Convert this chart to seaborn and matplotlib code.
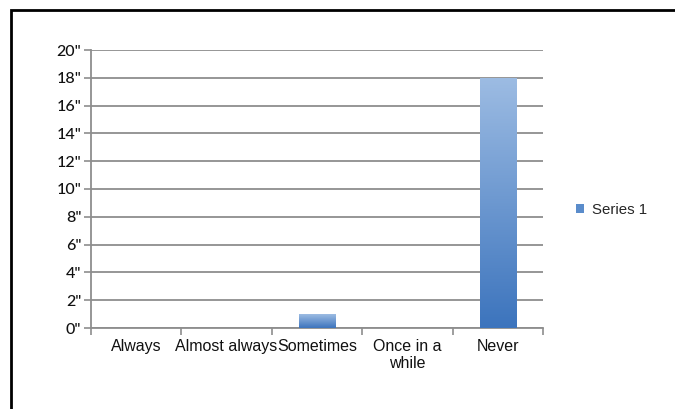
import numpy as np
import pandas as pd
import matplotlib
matplotlib.use("Agg")
import matplotlib.pyplot as plt
import seaborn as sns
from matplotlib.colors import LinearSegmentedColormap
from matplotlib.patches import Rectangle, Patch
from matplotlib.ticker import FixedLocator

categories = ["Always", "Almost always", "Sometimes", "Once in a\nwhile", "Never"]
values = [0, 0, 1, 0, 18]
series_name = "Series 1"
y_ticks = [0, 2, 4, 6, 8, 10, 12, 14, 16, 18, 20]
y_labels = ['%d"' % v for v in y_ticks]

sns.set_style("white")
plt.rcParams['font.family'] = ['Liberation Sans', 'DejaVu Sans']

grid_col = "#8e8e8e"
fig = plt.figure(figsize=(6.75, 4.09), dpi=100)
ax = fig.add_axes([91 / 675, 1 - 328 / 409, (543 - 91) / 675, (328 - 50) / 409])

df = pd.DataFrame({"cat": categories, "val": values})
sns.barplot(data=df, x="cat", y="val", color="#4f81bd", width=0.4, ax=ax,
            saturation=1, zorder=3)

# vertical gradient fill for the bars, light on top, darker at the base
grad = LinearSegmentedColormap.from_list("g", ["#3c74bd", "#9dbce3"])
for p in ax.patches:
    x0, y0 = p.get_x(), p.get_y()
    w, h = p.get_width(), p.get_height()
    if h <= 0:
        p.set_visible(False)
        continue
    p.set_edgecolor("none")
    img = ax.imshow(np.linspace(0, 1, 256).reshape(-1, 1), cmap=grad,
                    extent=[x0, x0 + w, y0, y0 + h], origin="lower",
                    aspect="auto", zorder=4)
    img.set_clip_path(p)

ax.set_xlim(-0.5, len(categories) - 0.5)
ax.set_ylim(0, 20)
ax.set_yticks(y_ticks)
ax.set_yticklabels(y_labels, family=["Lato", "DejaVu Sans"], fontsize=11.5,
                   color="#111111", fontweight="medium")
ax.set_xticks(range(len(categories)))
ax.set_xticklabels(categories, fontsize=11.5, color="#111111", linespacing=1.15)
ax.xaxis.set_minor_locator(FixedLocator(np.arange(-0.5, len(categories), 1)))
ax.tick_params(axis="x", which="major", length=0, pad=8, bottom=True)
ax.tick_params(axis="x", which="minor", length=5, width=1.2, color=grid_col, bottom=True)
ax.tick_params(axis="y", length=5, width=1.2, color=grid_col, pad=2, left=True)
ax.set_xlabel("")
ax.set_ylabel("")

ax.yaxis.grid(True, color=grid_col, lw=1.3)
ax.set_axisbelow(True)
for s in ["top", "right"]:
    ax.spines[s].set_visible(False)
for s in ["left", "bottom"]:
    ax.spines[s].set_color(grid_col)
    ax.spines[s].set_linewidth(1.3)

handle = Patch(facecolor="#5a8ccb", edgecolor="none", label=series_name)
fig.legend(handles=[handle], loc="center left", bbox_to_anchor=(568 / 675, 1 - 210 / 409),
           frameon=False, fontsize=10.8, handlelength=0.55, handleheight=0.55,
           handletextpad=0.55, borderpad=0)

# page frame: only the left and top edges are visible in the crop
fig.patches.append(Rectangle((11 / 675, -0.5), 2, 0.5 + 1 - 10 / 409, transform=fig.transFigure,
                             fill=False, edgecolor="black", lw=2))

fig.savefig("out.png", dpi=100)
